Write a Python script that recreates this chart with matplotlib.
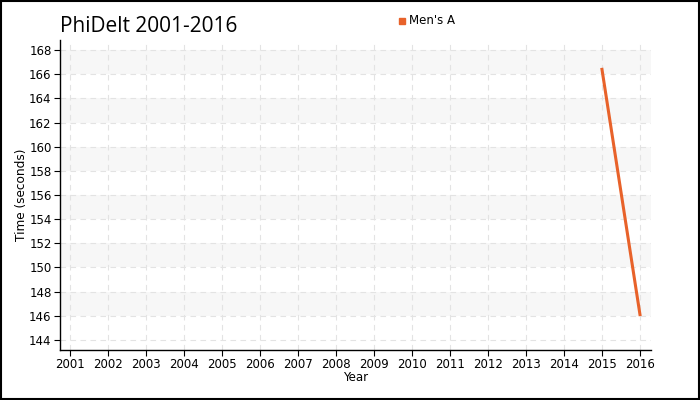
import matplotlib
matplotlib.use("Agg")
import matplotlib.pyplot as plt
from matplotlib.patches import Rectangle

years = [2015, 2016]
mens_a = [166.4, 146.1]
year_ticks = list(range(2001, 2017))
time_ticks = list(range(144, 169, 2))
band_starts = [146, 150, 154, 158, 162, 166]

plt.rcParams['font.family'] = ['DejaVu Sans']

fig = plt.figure(figsize=(7, 4), dpi=100)
ax = fig.add_axes([60 / 700, 50 / 400, 591 / 700, 310 / 400])

# alternating grey bands
for b in band_starts:
    ax.axhspan(b, b + 2, color='#f7f7f7', zorder=0, lw=0)

ax.plot(years, mens_a, color='#e8622a', lw=2.2, zorder=3, label="Men's A")

ax.set_xlim(2000.74, 2016.29)
ax.set_ylim(143.17, 168.83)
ax.set_xticks(year_ticks)
ax.set_yticks(time_ticks)
ax.tick_params(labelsize=8.5, length=4, direction='out', colors='black', pad=2)
ax.grid(True, color='#e3e3e3', linestyle=(0, (5, 4)), lw=0.8, zorder=1)
ax.set_axisbelow(True)
for s in ['top', 'right']:
    ax.spines[s].set_visible(False)
ax.spines['left'].set_linewidth(1)
ax.spines['bottom'].set_linewidth(1)

ax.set_xlabel('Year', fontsize=8.5, labelpad=0)
ax.set_ylabel('Time (seconds)', fontsize=8.7, labelpad=1)

fig.text(60 / 700, 1 - 27 / 400, 'PhiDelt 2001-2016', fontsize=15,
         family='Open Sans', va='center', ha='left')

# legend
fig.patches.append(Rectangle((399 / 700, 1 - 24 / 400), 6 / 700, 6 / 400,
                             transform=fig.transFigure, color='#e8622a'))
fig.text(409 / 700, 1 - 21 / 400, "Men's A", fontsize=8.5, va='center', ha='left')

# figure border
fig.patches.append(Rectangle((0.001, 0.002), 0.997, 0.995, transform=fig.transFigure,
                             fill=False, edgecolor='black', lw=1.5))

fig.savefig('out.png', dpi=100)
